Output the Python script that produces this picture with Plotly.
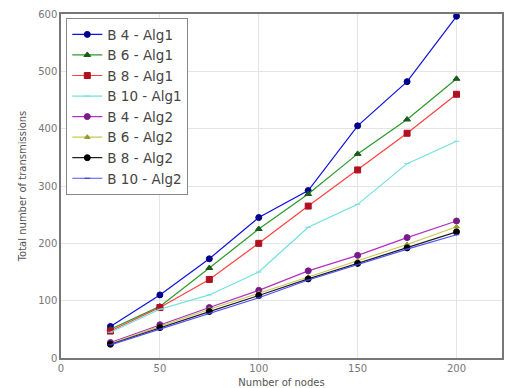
import plotly.graph_objects as go

nodes = [25, 50, 75, 100, 125, 150, 175, 200]

b4_alg1 = [55, 110, 173, 245, 292, 405, 482, 596]
b6_alg1 = [50, 90, 157, 225, 286, 356, 416, 487]
b8_alg1 = [47, 88, 137, 200, 265, 328, 392, 460]
b10_alg1 = [45, 85, 110, 150, 228, 268, 339, 378]
b4_alg2 = [27, 58, 88, 118, 152, 179, 210, 239]
b6_alg2 = [25, 55, 85, 113, 141, 169, 198, 229]
b8_alg2 = [24, 53, 81, 109, 138, 165, 192, 220]
b10_alg2 = [23, 50, 78, 105, 136, 163, 190, 215]

series = [
    ("B 4 - Alg1", b4_alg1, "#1010e0", "#00008b", "circle", 6),
    ("B 6 - Alg1", b6_alg1, "#2a9a2a", "#1a5a1a", "triangle-up", 6),
    ("B 8 - Alg1", b8_alg1, "#ff4040", "#b01020", "square", 6),
    ("B 10 - Alg1", b10_alg1, "#70e0e0", "#70e0e0", "line-ew", 4),
    ("B 4 - Alg2", b4_alg2, "#b030c0", "#7a1a8a", "circle", 6),
    ("B 6 - Alg2", b6_alg2, "#c8c850", "#9a9a30", "triangle-up", 5),
    ("B 8 - Alg2", b8_alg2, "#202020", "#000000", "circle", 6),
    ("B 10 - Alg2", b10_alg2, "#5050ff", "#3030c0", "line-ew", 4),
]

fig = go.Figure()
for name, vals, lc, mc, sym, ms in series:
    fig.add_trace(go.Scatter(
        x=nodes, y=vals, name=name, mode="lines+markers",
        line=dict(color=lc, width=1.2),
        marker=dict(symbol=sym, size=ms, color=mc,
                    line=dict(color=mc, width=1)),
    ))

fig.update_layout(
    width=511, height=388,
    margin=dict(l=61, r=9, t=14, b=30, autoexpand=False),
    paper_bgcolor="white", plot_bgcolor="white",
    font=dict(family="DejaVu Sans", size=10, color="#555555"),
    showlegend=True,
    legend=dict(
        x=0.012, y=0.988, xanchor="left", yanchor="top",
        bgcolor="white", bordercolor="#888888", borderwidth=1,
        font=dict(size=13.5, color="#444444"),
        tracegroupgap=0, itemwidth=30,
    ),
    xaxis=dict(
        range=[0, 223], tickvals=[0, 50, 100, 150, 200],
        showgrid=True, gridcolor="#e4e4e4", gridwidth=1,
        showline=True, linecolor="#777777", linewidth=1.5, mirror=True,
        zeroline=False, ticks="", tickfont=dict(size=10, color="#777777"),
        automargin=False,
        title=dict(text="Number of nodes", font=dict(size=10, color="#555555"), standoff=6),
    ),
    yaxis=dict(
        range=[0, 600], tickvals=[0, 100, 200, 300, 400, 500, 600],
        showgrid=True, gridcolor="#e4e4e4", gridwidth=1,
        showline=True, linecolor="#777777", linewidth=1.5, mirror=True,
        zeroline=False, ticks="", tickfont=dict(size=10, color="#777777"),
        automargin=False,
        title=dict(text="Total number of transmissions", font=dict(size=10, color="#555555"), standoff=10),
    ),
)

fig.write_html("out.html")
